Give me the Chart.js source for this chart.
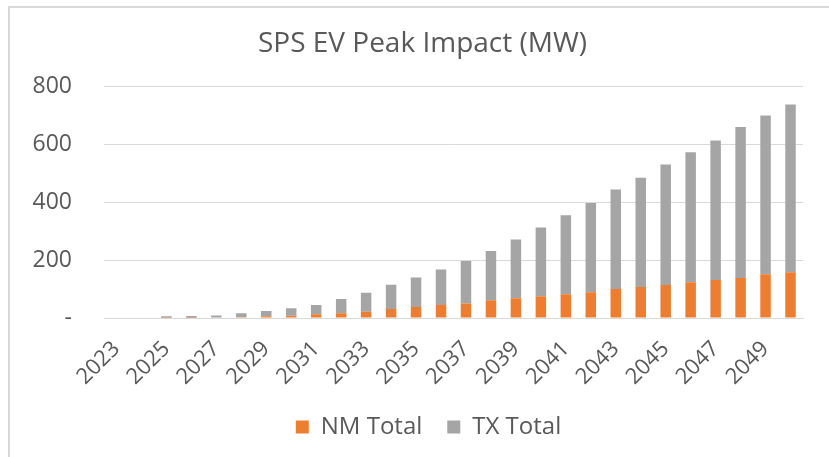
<!DOCTYPE html>
<html>
<head>
<meta charset="utf-8">
<script src="https://cdn.jsdelivr.net/npm/chart.js@4/dist/chart.umd.min.js"></script>
<style>
  html, body { margin: 0; padding: 0; background: #ffffff; }
  #wrap { position: relative; width: 829px; height: 457px; overflow: hidden; }
  #cornice { position: absolute; left: 8px; top: 6px; right: -10px; bottom: -10px;
             border-left: 2px solid #d9d9d9; border-top: 2px solid #d9d9d9; }
  #grafico { position: absolute; left: 0; top: 0; }
</style>
</head>
<body>
<div id="wrap">
  <div id="cornice"></div>
  <canvas id="grafico" width="829" height="457"></canvas>
</div>
<script>
// anni sull'asse x
var anni = ['2023', '2024', '2025', '2026', '2027', '2028', '2029', '2030', '2031', '2032',
  '2033', '2034', '2035', '2036', '2037', '2038', '2039', '2040', '2041', '2042',
  '2043', '2044', '2045', '2046', '2047', '2048', '2049', '2050'];

// MW New Mexico
var nm_totale = [0, 0, 1, 1, 2, 3, 6, 8, 13, 16,
  22, 31, 38, 45, 50, 61, 68, 75, 82, 89,
  100, 107, 114, 124, 131, 138, 151, 158];

// MW Texas
var tx_totale = [0, 0, 5, 6, 7, 13, 18, 26, 32, 50,
  65, 84, 102, 123, 147, 171, 203, 238, 273, 309,
  344, 378, 417, 449, 483, 522, 549, 580];

// tacche asse y
var tacche_y = [0, 200, 400, 600, 800];

var nomi_serie = ['NM Total', 'TX Total'];
var colori_serie = ['#ED7D31', '#A5A5A5'];

var grigio_testo = '#595959';
var grigio_linee = '#d9d9d9';
var font_base = "'Open Sans', sans-serif";

// nell'originale titolo e legenda sono centrati un po' piu' a destra
var sposta_blocchi = {
  id: 'sposta_blocchi',
  afterLayout: function(chart) {
    chart.titleBlock.left += 21;
    chart.titleBlock.right += 21;
    chart.legend.left += 27;
    chart.legend.right += 27;
  }
};

var grafico = new Chart(document.getElementById('grafico'), {
  type: 'bar',
  data: {
    labels: anni,
    datasets: [{
      label: nomi_serie[0],
      data: nm_totale,
      backgroundColor: colori_serie[0],
      borderWidth: 0,
      barPercentage: 0.42,
      categoryPercentage: 1
    }, {
      label: nomi_serie[1],
      data: tx_totale,
      backgroundColor: colori_serie[1],
      borderWidth: 0,
      barPercentage: 0.42,
      categoryPercentage: 1
    }]
  },
  plugins: [sposta_blocchi],
  options: {
    responsive: false,
    animation: false,
    layout: { padding: { left: 0, right: 26, top: 0, bottom: 8 } },
    plugins: {
      title: {
        display: true,
        text: 'SPS EV Peak Impact (MW)',
        color: grigio_testo,
        font: { family: font_base, size: 28, weight: 'normal', lineHeight: 1.2 },
        padding: { top: 27, bottom: 26 }
      },
      legend: {
        position: 'bottom',
        labels: {
          color: grigio_testo,
          font: { family: font_base, size: 24 },
          boxWidth: 13,
          boxHeight: 13,
          padding: 25
        }
      },
      tooltip: { enabled: false }
    },
    scales: {
      x: {
        stacked: true,
        grid: { display: false, drawTicks: false },
        border: { display: true, color: grigio_linee, width: 1 },
        ticks: {
          color: grigio_testo,
          font: { family: font_base, size: 22 },
          autoSkip: false,
          maxRotation: 45,
          minRotation: 45,
          padding: 18,
          callback: function(valore, indice) {
            return indice % 2 == 0 ? anni[indice] : '';
          }
        },
        afterFit: function(scala) { scala.height = 72; }
      },
      y: {
        stacked: true,
        min: 0,
        max: 800,
        afterBuildTicks: function(scala) {
          scala.ticks = tacche_y.map(function(v) { return { value: v }; });
        },
        grid: { color: grigio_linee, lineWidth: 1, drawTicks: false },
        border: { display: false },
        ticks: {
          color: grigio_testo,
          font: { family: font_base, size: 23 },
          padding: 32,
          callback: function(valore) {
            return valore == 0 ? '-' : valore;
          }
        },
        afterFit: function(scala) { scala.width = 104; }
      }
    }
  }
});
</script>
</body>
</html>
